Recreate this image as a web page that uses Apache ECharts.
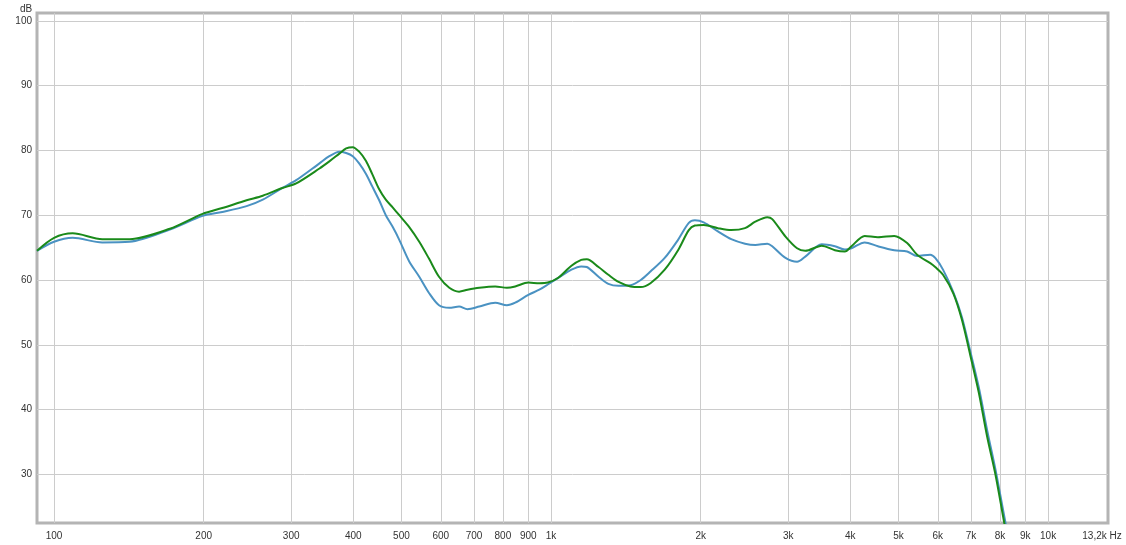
<!DOCTYPE html>
<html>
<head>
<meta charset="utf-8">
<script src="https://cdn.jsdelivr.net/npm/echarts@6.0.0/dist/echarts.min.js"></script>
<style>
  html, body { margin: 0; padding: 0; background: #fff; }
  #chart { width: 1126px; height: 545px; }
</style>
</head>
<body>
<div id="chart"></div>
<script>
// frequency points (Hz) shared by both curves
const freqs = [92.4, 100, 109, 125, 142, 171, 199, 218, 244, 263, 288, 307, 342, 358, 375, 387, 399, 411, 424, 437,
  451, 465, 480, 495, 518, 543, 568, 595, 624, 653, 679, 717, 772, 815, 847, 900, 947, 985, 1032, 1099,
  1150, 1180, 1246, 1304, 1367, 1445, 1515, 1585, 1693, 1801, 1893, 1947, 2028, 2166, 2304, 2456, 2576, 2723,
  2786, 2963, 3126, 3247, 3504, 3724, 3902, 4022, 4276, 4546, 4903, 5205, 5451, 5794, 5928, 6146, 6449, 6707,
  6974, 7256, 7542, 7840, 8155, 8500];

// blue curve (dB)
const blueDb = [64.5, 65.9, 66.5, 65.8, 65.9, 67.8, 69.9, 70.5, 71.4, 72.4, 74.2, 75.4, 78.0, 79.1, 79.8, 79.6, 79.1, 78.0, 76.4, 74.4,
  72.3, 70.0, 68.2, 66.2, 62.9, 60.5, 58.0, 56.1, 55.7, 55.9, 55.5, 55.9, 56.5, 56.1, 56.5, 57.7, 58.5, 59.3, 60.3, 61.6,
  62.1, 62.0, 60.5, 59.4, 59.1, 59.2, 60.0, 61.3, 63.4, 66.2, 68.8, 69.2, 68.9, 67.5, 66.3, 65.6, 65.4, 65.6,
  65.2, 63.4, 62.8, 63.6, 65.5, 65.2, 64.7, 64.9, 65.8, 65.2, 64.6, 64.4, 63.7, 63.9, 63.4, 61.6, 58.1, 54.3,
  49.0, 43.4, 36.8, 30.7, 23.7, 16.5];

// green curve (dB)
const greenDb = [64.5, 66.5, 67.2, 66.3, 66.3, 67.9, 70.2, 71.1, 72.3, 73.0, 74.2, 74.9, 77.2, 78.3, 79.5, 80.3, 80.5, 79.8, 78.4, 76.3,
  74.0, 72.4, 71.2, 70.0, 68.2, 65.9, 63.3, 60.5, 58.8, 58.2, 58.5, 58.8, 59.0, 58.8, 59.0, 59.6, 59.5, 59.6, 60.3, 62.2,
  63.1, 63.2, 62.0, 60.8, 59.7, 59.0, 58.9, 59.5, 61.6, 64.6, 67.7, 68.4, 68.5, 68.0, 67.7, 68.0, 69.0, 69.7,
  69.4, 66.7, 64.9, 64.5, 65.3, 64.6, 64.4, 65.2, 66.8, 66.6, 66.8, 65.7, 63.9, 62.6, 62.0, 60.8, 57.9, 53.9,
  48.4, 42.6, 35.8, 29.9, 22.7, 15.5];

// axis ticks
const xTicks = [100, 200, 300, 400, 500, 600, 700, 800, 900, 1000, 2000, 3000, 4000, 5000, 6000, 7000, 8000, 9000, 10000];
const xLabels = [100, 200, 300, 400, 500, 600, 700, 800, 900, 1000, 2000, 3000, 4000, 5000, 6000, 7000, 8000, 9000, 10000, 13200];
const yTicks = [30, 40, 50, 60, 70, 80, 90, 100];

const chart = echarts.init(document.getElementById('chart'));

const font = 'Liberation Sans, Arial, sans-serif';

function fmtFreq(v) {
  if (v >= 13000) return '{hz|13,2k Hz}';
  if (v >= 1000) return (v / 1000) + 'k';
  return String(v);
}

const option = {
  animation: false,
  title: {
    text: 'dB',
    left: 15,
    top: -1,
    textStyle: { fontSize: 10, fontWeight: 'normal', color: '#333', fontFamily: font }
  },
  grid: {
    left: 37, right: 18, top: 13, bottom: 22,
    show: true,
    borderColor: '#b4b4b4',
    borderWidth: 3,
    backgroundColor: '#fff'
  },
  xAxis: {
    type: 'log',
    logBase: 10,
    min: 92.4,
    max: 13200,
    axisLine: { show: false },
    axisTick: { show: false, customValues: xTicks },
    splitLine: { show: true, lineStyle: { color: '#cccccc', width: 1 } },
    minorTick: { show: false },
    minorSplitLine: { show: false },
    axisLabel: {
      customValues: xLabels,
      formatter: fmtFreq,
      fontSize: 10,
      color: '#333',
      fontFamily: font,
      margin: 8,
      rich: {
        hz: { fontSize: 10, color: '#333', fontFamily: font, padding: [0, 12, 0, 0] }
      }
    }
  },
  yAxis: {
    type: 'value',
    min: 22.5,
    max: 101.2,
    axisLine: { show: false },
    axisTick: { show: false, customValues: yTicks },
    splitLine: { show: true, lineStyle: { color: '#cccccc', width: 1 } },
    axisLabel: {
      customValues: yTicks,
      fontSize: 10,
      color: '#333',
      fontFamily: font,
      margin: 5
    }
  },
  series: [
    {
      name: 'blue',
      type: 'line',
      data: freqs.map((f, i) => [f, blueDb[i]]),
      showSymbol: false,
      smooth: 0.3,
      clip: true,
      lineStyle: { color: '#4a92c2', width: 2 },
      z: 2
    },
    {
      name: 'green',
      type: 'line',
      data: freqs.map((f, i) => [f, greenDb[i]]),
      showSymbol: false,
      smooth: 0.3,
      clip: true,
      lineStyle: { color: '#1a8a1a', width: 2 },
      z: 3
    }
  ]
};

chart.setOption(option);
</script>
</body>
</html>
